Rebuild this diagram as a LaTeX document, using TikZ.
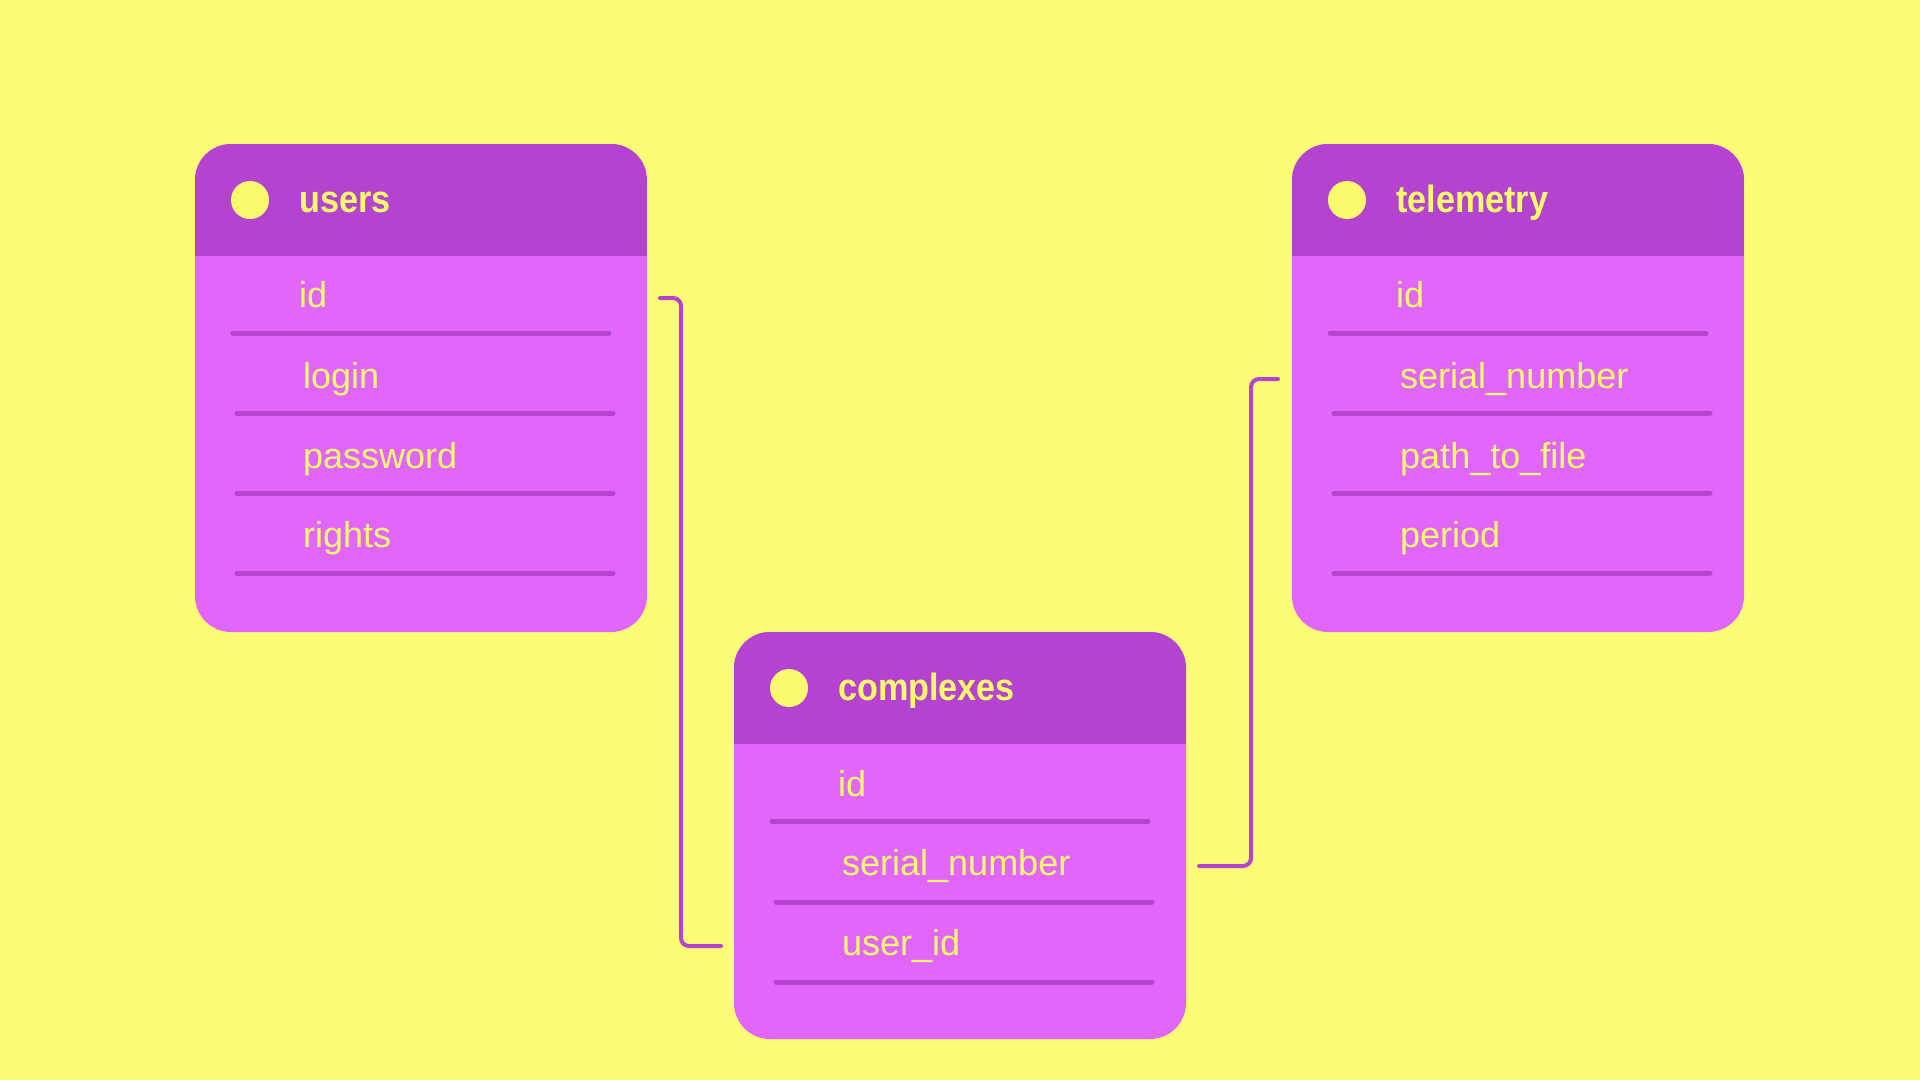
\documentclass[tikz,border=0pt]{standalone}
\usepackage{fontspec}
\setmainfont{Liberation Sans}
\newfontfamily\titlefont[FakeStretch=0.9]{Liberation Sans}
\usetikzlibrary{calc}
\definecolor{bgyellow}{RGB}{252,252,118}
\definecolor{hdrpurple}{RGB}{180,68,208}
\definecolor{bodypink}{RGB}{224,102,252}
\definecolor{txtyellow}{RGB}{250,250,110}
\tikzset{
  tbl/.style={rectangle, inner sep=0pt, outer sep=0pt, anchor=north west,
    minimum width=452pt, fill=bodypink, rounded corners=36pt,
    path picture={\fill[hdrpurple, sharp corners] (path picture bounding box.north west) rectangle ([yshift=-112pt]path picture bounding box.north east);}},
  dot/.style={circle, fill=txtyellow, minimum size=38pt, inner sep=0pt},
  ttl/.style={anchor=base west, inner sep=0pt, text=txtyellow, font=\titlefont\bfseries\fontsize{38}{45}\selectfont},
  fld/.style={anchor=base west, inner sep=0pt, text=txtyellow, text height=26pt, text depth=8pt, font=\fontsize{36}{43}\selectfont},
  sep/.style={draw=hdrpurple, line width=5pt, line cap=round},
  conn/.style={draw=hdrpurple, line width=4pt, line cap=round, rounded corners=8pt}
}
\begin{document}
\begin{tikzpicture}[x=1pt,y=-1pt]
\fill[bgyellow] (0,0) rectangle (1920,1080);
\useasboundingbox (0,0) rectangle (1920,1080);

% users
\node[tbl, minimum height=488pt] (users) at (195,144) {};
\begin{scope}[shift={(195,144)}]
  \node[dot] (users-dot) at (55,56) {};
  \node[ttl] (users-title) at (104,68) {users};
  \node[fld] (users-id) at (104,163) {id};
  \node[fld] (users-login) at (108,244) {login};
  \node[fld] (users-password) at (108,324) {password};
  \node[fld] (users-rights) at (108,403) {rights};
  \draw[sep] (38,189) -- (414,189);
  \draw[sep] (42,269) -- (418,269);
  \draw[sep] (42,349) -- (418,349);
  \draw[sep] (42,429) -- (418,429);
\end{scope}

% telemetry
\node[tbl, minimum height=488pt] (telemetry) at (1292,144) {};
\begin{scope}[shift={(1292,144)}]
  \node[dot] (tel-dot) at (55,56) {};
  \node[ttl] (tel-title) at (104,68) {telemetry};
  \node[fld] (tel-id) at (104,163) {id};
  \node[fld] (tel-serial) at (108,244) {serial\_number};
  \node[fld] (tel-path) at (108,324) {path\_to\_file};
  \node[fld] (tel-period) at (108,403) {period};
  \draw[sep] (38,189) -- (414,189);
  \draw[sep] (42,269) -- (418,269);
  \draw[sep] (42,349) -- (418,349);
  \draw[sep] (42,429) -- (418,429);
\end{scope}

% complexes
\node[tbl, minimum height=407pt] (complexes) at (734,632) {};
\begin{scope}[shift={(734,632)}]
  \node[dot] (cx-dot) at (55,56) {};
  \node[ttl] (cx-title) at (104,68) {complexes};
  \node[fld] (cx-id) at (104,164) {id};
  \node[fld] (cx-serial) at (108,243) {serial\_number};
  \node[fld] (cx-userid) at (108,323) {user\_id};
  \draw[sep] (38,189) -- (414,189);
  \draw[sep] (42,270) -- (418,270);
  \draw[sep] (42,350) -- (418,350);
\end{scope}

% connectors
\draw[conn] ($(users.east |- users-id.center)+(13,0)$) -- ++(21,0)
  |- ($(complexes.west |- cx-userid.center)+(-13,0)$);
\draw[conn] ($(complexes.east |- cx-serial.center)+(13,0)$) -- ++(52,0)
  |- ($(telemetry.west |- tel-serial.center)+(-14,0)$);
\end{tikzpicture}
\end{document}
